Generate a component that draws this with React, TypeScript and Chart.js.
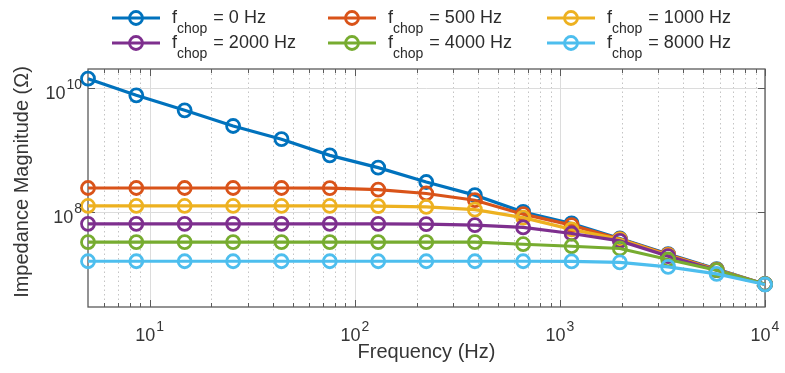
import React, { useEffect, useRef } from 'react';
import { Chart, registerables } from 'chart.js';

Chart.register(...registerables);

// ---------- data ----------
const frequencies = [5, 8.6, 14.8, 25.5, 43.9, 75.5, 130, 223, 385, 662, 1140, 1960, 3370, 5810, 10000];

const chopLabels = ['0 Hz', '500 Hz', '1000 Hz', '2000 Hz', '4000 Hz', '8000 Hz'];

const zChop0 = [1.4e10, 7.55e9, 4.34e9, 2.43e9, 1.49e9, 8.2e8, 5.2e8, 3.06e8, 1.88e8, 1.01e8, 6.6e7, 3.78e7, 2.12e7, 1.22e7, 6.98e6];
const zChop500 = [2.45e8, 2.45e8, 2.45e8, 2.45e8, 2.45e8, 2.44e8, 2.31e8, 2.0e8, 1.56e8, 9.3e7, 6.2e7, 3.7e7, 2.09e7, 1.2e7, 6.98e6];
const zChop1000 = [1.26e8, 1.26e8, 1.26e8, 1.26e8, 1.26e8, 1.26e8, 1.25e8, 1.22e8, 1.1e8, 8.2e7, 5.3e7, 3.67e7, 2.04e7, 1.19e7, 6.98e6];
const zChop2000 = [6.5e7, 6.5e7, 6.5e7, 6.5e7, 6.5e7, 6.5e7, 6.5e7, 6.45e7, 6.2e7, 5.7e7, 4.55e7, 3.46e7, 1.97e7, 1.17e7, 6.98e6];
const zChop4000 = [3.3e7, 3.3e7, 3.3e7, 3.3e7, 3.3e7, 3.3e7, 3.3e7, 3.3e7, 3.3e7, 3.06e7, 2.84e7, 2.61e7, 1.74e7, 1.17e7, 6.98e6];
const zChop8000 = [1.63e7, 1.63e7, 1.63e7, 1.63e7, 1.63e7, 1.63e7, 1.63e7, 1.63e7, 1.63e7, 1.63e7, 1.62e7, 1.56e7, 1.32e7, 1.02e7, 6.9e6];

const seriesValues = [zChop0, zChop500, zChop1000, zChop2000, zChop4000, zChop8000];
const seriesColors = ['#0072BD', '#D95319', '#EDB120', '#7E2F8E', '#77AC30', '#4DBEEE'];

const xTickValues = [10, 100, 1000, 10000];
const xTickExponents = ['1', '2', '3', '4'];
const yTickValues = [1e8, 1e10];
const yTickExponents = ['8', '10'];

const xTitle = 'Frequency (Hz)';
const yTitle = 'Impedance Magnitude (Ω)';

const X_MIN = 5;
const X_MAX = 10000;
const Y_MIN = 3e6;
const Y_MAX = 2e10;

// ---------- drawing helpers ----------
const FONT = '"Liberation Sans", Arial, Helvetica, sans-serif';
const TEXT_COLOR = '#363636';

function minorXValues(): number[] {
  const out: number[] = [];
  for (let d = 1; d <= 1000; d *= 10) {
    for (let k = 2; k <= 9; k++) {
      const v = k * d;
      if (v > X_MIN && v < X_MAX) out.push(v);
    }
  }
  return out;
}

function drawPow(ctx: CanvasRenderingContext2D, exp: string, x: number, yMain: number, ySup: number, align: 'center' | 'right') {
  ctx.font = `18px ${FONT}`;
  const wBase = ctx.measureText('10').width;
  ctx.font = `14px ${FONT}`;
  const wExp = ctx.measureText(exp).width;
  const total = wBase + wExp + 1;
  const start = align === 'center' ? x - total / 2 : x - total;
  ctx.textAlign = 'left';
  ctx.textBaseline = 'middle';
  ctx.font = `18px ${FONT}`;
  ctx.fillText('10', start, yMain);
  ctx.font = `14px ${FONT}`;
  ctx.fillText(exp, start + wBase + 1, ySup);
}

const matlabPlugin = {
  id: 'matlabAxes',
  beforeDatasetsDraw(chart: any) {
    const { ctx, chartArea: a, scales } = chart;
    const xs = scales.x;
    const ys = scales.y;
    ctx.save();
    ctx.lineWidth = 1;
    // minor dotted vertical grid
    ctx.strokeStyle = '#c4c4c4';
    ctx.setLineDash([1.5, 3]);
    for (const v of minorXValues()) {
      const px = Math.round(xs.getPixelForValue(v)) + 0.5;
      ctx.beginPath();
      ctx.moveTo(px, a.top);
      ctx.lineTo(px, a.bottom);
      ctx.stroke();
    }
    ctx.setLineDash([]);
    // major grid
    ctx.strokeStyle = '#dcdcdc';
    for (const v of xTickValues) {
      const px = Math.round(xs.getPixelForValue(v)) + 0.5;
      ctx.beginPath();
      ctx.moveTo(px, a.top);
      ctx.lineTo(px, a.bottom);
      ctx.stroke();
    }
    for (const v of yTickValues) {
      const py = Math.round(ys.getPixelForValue(v)) + 0.5;
      ctx.beginPath();
      ctx.moveTo(a.left, py);
      ctx.lineTo(a.right, py);
      ctx.stroke();
    }
    // box
    ctx.strokeStyle = '#5a5a5a';
    ctx.lineWidth = 1.3;
    ctx.strokeRect(a.left, a.top, a.right - a.left, a.bottom - a.top);
    // ticks (inward)
    ctx.lineWidth = 1;
    const tick = (x1: number, y1: number, x2: number, y2: number) => {
      ctx.beginPath();
      ctx.moveTo(x1, y1);
      ctx.lineTo(x2, y2);
      ctx.stroke();
    };
    for (const v of xTickValues) {
      const px = Math.round(xs.getPixelForValue(v)) + 0.5;
      tick(px, a.bottom, px, a.bottom - 7);
      tick(px, a.top, px, a.top + 7);
    }
    for (const v of minorXValues()) {
      const px = Math.round(xs.getPixelForValue(v)) + 0.5;
      tick(px, a.bottom, px, a.bottom - 4);
      tick(px, a.top, px, a.top + 4);
    }
    for (const v of yTickValues) {
      const py = Math.round(ys.getPixelForValue(v)) + 0.5;
      tick(a.left, py, a.left + 7, py);
      tick(a.right, py, a.right - 7, py);
    }
    ctx.restore();
  },
  afterDraw(chart: any) {
    const { ctx, chartArea: a, scales } = chart;
    const xs = scales.x;
    const ys = scales.y;
    ctx.save();
    ctx.fillStyle = TEXT_COLOR;
    // tick labels
    xTickValues.forEach((v, i) => {
      const px = xs.getPixelForValue(v);
      drawPow(ctx, xTickExponents[i], px, a.bottom + 29, a.bottom + 20, 'center');
    });
    yTickValues.forEach((v, i) => {
      const py = ys.getPixelForValue(v);
      drawPow(ctx, yTickExponents[i], a.left - 6, py + 6, py - 3, 'right');
    });
    // axis titles
    ctx.font = `20px ${FONT}`;
    ctx.textAlign = 'center';
    ctx.textBaseline = 'middle';
    ctx.fillText(xTitle, (a.left + a.right) / 2, 352);
    ctx.save();
    ctx.translate(22, 182);
    ctx.rotate(-Math.PI / 2);
    ctx.fillText(yTitle, 0, 0);
    ctx.restore();

    // legend
    const colStarts = [112, 328, 547];
    const rowYs = [18, 43];
    chopLabels.forEach((lab, i) => {
      const col = i % 3;
      const row = Math.floor(i / 3);
      const x0 = colStarts[col];
      const y0 = rowYs[row];
      ctx.strokeStyle = seriesColors[i];
      ctx.lineWidth = 3.2;
      ctx.beginPath();
      ctx.moveTo(x0, y0);
      ctx.lineTo(x0 + 48, y0);
      ctx.stroke();
      ctx.lineWidth = 2.8;
      ctx.beginPath();
      ctx.arc(x0 + 24, y0, 6.5, 0, Math.PI * 2);
      ctx.stroke();
      ctx.fillStyle = '#2b2b2b';
      ctx.textAlign = 'left';
      ctx.textBaseline = 'middle';
      const fx = x0 + 60;
      ctx.font = `18px ${FONT}`;
      ctx.fillText('f', fx, y0);
      const wf = ctx.measureText('f').width;
      ctx.font = `14px ${FONT}`;
      ctx.fillText('chop', fx + wf, y0 + 11);
      const wc = ctx.measureText('chop').width;
      ctx.font = `18px ${FONT}`;
      ctx.fillText(' = ' + lab, fx + wf + wc + 1, y0);
    });
    ctx.restore();
  },
};

export default function App() {
  const canvasRef = useRef<HTMLCanvasElement | null>(null);

  useEffect(() => {
    const canvas = canvasRef.current;
    if (!canvas) return;
    const datasets = seriesValues.map((vals, i) => ({
      label: 'f_chop = ' + chopLabels[i],
      data: frequencies.map((f, j) => ({ x: f, y: vals[j] })),
      borderColor: seriesColors[i],
      backgroundColor: seriesColors[i],
      borderWidth: 3.2,
      pointRadius: 6.5,
      pointBorderWidth: 2.8,
      pointBackgroundColor: 'rgba(0,0,0,0)',
      pointBorderColor: seriesColors[i],
      tension: 0,
      clip: false as any,
      order: seriesValues.length - 1 - i,
    }));
    const chart = new Chart(canvas, {
      type: 'line',
      data: { datasets },
      options: {
        responsive: false,
        animation: false,
        events: [],
        layout: { padding: { left: 88, right: 20, top: 69, bottom: 66 } },
        plugins: { legend: { display: false }, tooltip: { enabled: false } },
        scales: {
          x: {
            type: 'logarithmic',
            min: X_MIN,
            max: X_MAX,
            ticks: { display: false },
            grid: { display: false, drawTicks: false },
            border: { display: false },
          },
          y: {
            type: 'logarithmic',
            min: Y_MIN,
            max: Y_MAX,
            ticks: { display: false },
            grid: { display: false, drawTicks: false },
            border: { display: false },
          },
        },
      },
      plugins: [matlabPlugin],
    });
    return () => chart.destroy();
  }, []);

  return (
    <div style={{ position: 'absolute', left: 0, top: 0, width: 785, height: 373, background: '#ffffff' }}>
      <canvas ref={canvasRef} width={785} height={373} style={{ display: 'block' }} />
    </div>
  );
}
